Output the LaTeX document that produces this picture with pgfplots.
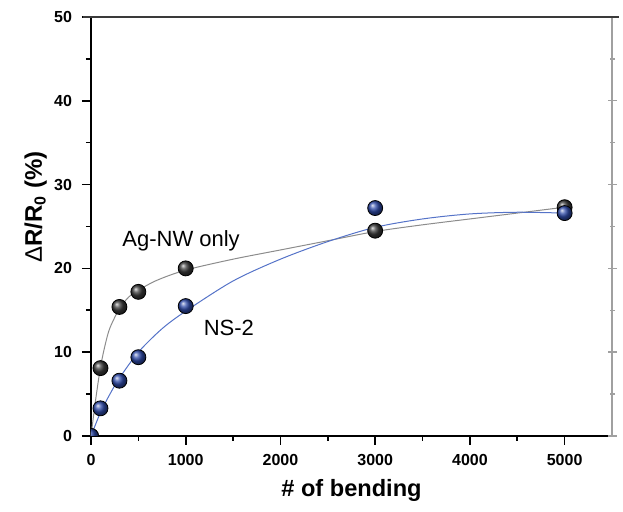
\documentclass[border=0pt]{standalone}
\usepackage{pgfplots}
\pgfplotsset{compat=1.18}
\usepackage{fontspec}
\setmainfont{Liberation Sans}

\definecolor{agnw}{HTML}{3A3A3A}
\definecolor{ns2}{HTML}{2E4AA8}
\definecolor{agfit}{HTML}{8C8C8C}
\definecolor{nsfit}{HTML}{5573C8}
\definecolor{rightax}{HTML}{A0A0A0}

\pgfplotsset{
  common/.style={
    scale only axis, width=260.5pt, height=209.5pt,
    at={(0,0)}, anchor=south west,
    xmin=0, xmax=5500, ymin=0, ymax=50,
    xtick={0,1000,...,5000}, ytick={0,10,...,50},
    minor x tick num=1, minor y tick num=1,
    tick align=outside,
    major tick length=4.5pt, minor tick length=2.5pt,
  }
}

\begin{document}
\begin{tikzpicture}
\useasboundingbox (-45.5pt,-38pt) rectangle (266pt,218pt);

\begin{axis}[common,
  xtick pos=bottom, ytick pos=left,
  axis line style={black, line width=0.75pt},
  major tick style={black, line width=0.8pt},
  minor tick style={black, line width=0.8pt},
  clip marker paths=true,
  ticklabel style={font=\bfseries\fontsize{8}{9}\selectfont},
  xticklabel style={yshift=-1pt},
  yticklabel style={xshift=-1.5pt},
  /pgf/number format/assume math mode=true,
  /pgf/number format/1000 sep={},
  xlabel={\# of bending},
  xlabel style={font=\bfseries\fontsize{11.8}{13}\selectfont,
    at={(axis description cs:0.5,-0.13)}, anchor=center},
  ylabel={{\mdseries Δ}R/R\textsubscript{0} (\%)},
  ylabel style={font=\bfseries\fontsize{12}{13}\selectfont,
    at={(axis description cs:-0.106,0.547)}, anchor=center, rotate=0},
]
% fitted curves
\addplot[agfit, line width=0.5pt, smooth] coordinates {
  (0,0) (50,4.4) (100,8.2) (150,10.9) (200,12.9) (300,15.2) (400,16.6)
  (500,17.4) (700,18.6) (1000,19.8) (1500,21.1) (2000,22.2) (2500,23.3)
  (3000,24.4) (3500,25.2) (4000,25.9) (4500,26.6) (5000,27.3)
};
\addplot[nsfit, line width=0.5pt, smooth] coordinates {
  (0,0) (100,2.8) (200,5.0) (300,6.9) (500,10.0) (750,12.8) (1000,14.9)
  (1500,18.5) (2000,21.1) (2500,23.2) (3000,24.9) (3500,25.9) (4000,26.5)
  (4500,26.7) (5000,26.6)
};
% measured points
\addplot[only marks, mark=ball, mark size=3.75pt, mark options={ball color=agnw}] coordinates {
  (0,0) (100,8.1) (300,15.4) (500,17.2) (1000,20.0) (3000,24.5) (5000,27.3)
};
\addplot[only marks, mark=ball, mark size=3.75pt, mark options={ball color=ns2}] coordinates {
  (0,0) (100,3.3) (300,6.6) (500,9.4) (1000,15.5) (3000,27.2) (5000,26.6)
};
\node[font=\fontsize{11}{13}\selectfont] at (axis cs:951,23.3) {Ag-NW only};
\node[font=\fontsize{11}{13}\selectfont] at (axis cs:1455,12.9) {NS-2};
\end{axis}

% gray right-hand axis, drawn over the black right border
\begin{axis}[common,
  axis y line=right, axis x line=none,
  y axis line style={-, draw=rightax, line width=0.8pt},
  yticklabels={},
  major tick style={rightax, line width=0.7pt},
  minor tick style={rightax, line width=0.7pt},
]
\end{axis}

\draw[agnw, line width=0.75pt] (-4pt,209.5pt) -- (264pt,209.5pt);
\end{tikzpicture}
\end{document}
